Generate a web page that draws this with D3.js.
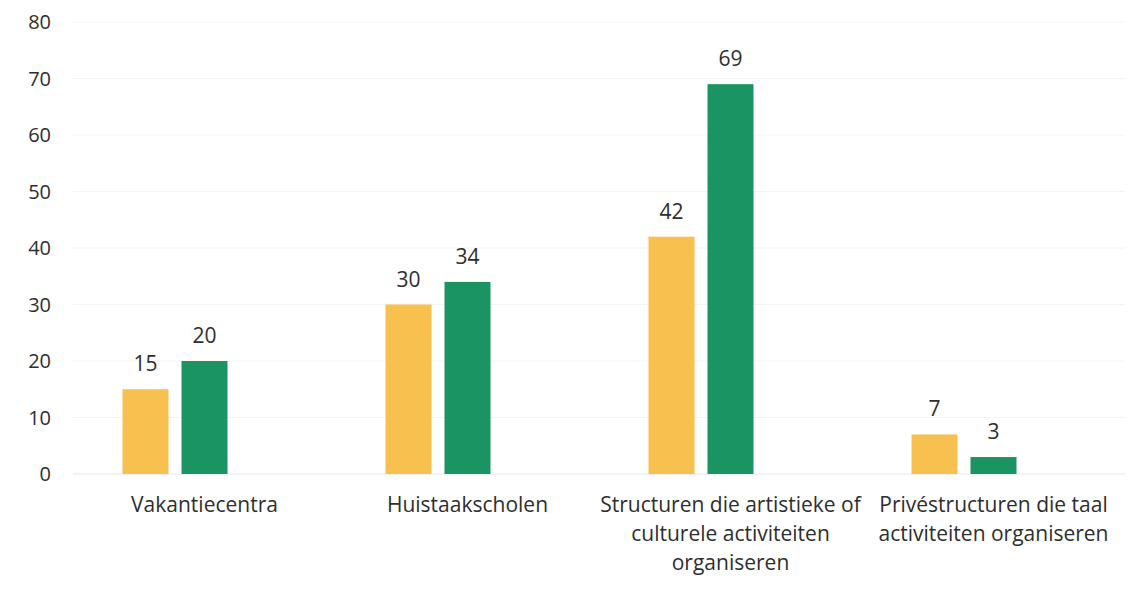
<!DOCTYPE html>
<html>
<head>
<meta charset="utf-8">
<script src="https://cdn.jsdelivr.net/npm/d3@7"></script>
<style>
  body { margin: 0; background: #fff; }
  text { font-family: "Open Sans", sans-serif; fill: #2e2e2e; }
</style>
</head>
<body>
<svg id="chart"></svg>
<script>
const categories = [
    ["Vakantiecentra"],
    ["Huistaakscholen"],
    ["Structuren die artistieke of", "culturele activiteiten", "organiseren"],
    ["Privéstructuren die taal", "activiteiten organiseren"]
];
const seriesKeys = ["s1", "s2", "s3"];
const seriesColors = ["#f7c04f", "#1a9462", "#ffffff"];
const valuesS1 = [15, 30, 42, 7];
const valuesS2 = [20, 34, 69, 3];
const yTicks = [0, 10, 20, 30, 40, 50, 60, 70, 80];

const width = 1144;
const height = 591;
const margin = {top: 22, right: 19, bottom: 117, left: 73};

const svg = d3.select("#chart")
    .attr("width", width)
    .attr("height", height);

const catNames = categories.map(d => d.join(" "));

const x0 = d3.scaleBand()
    .domain(catNames)
    .range([margin.left, width - margin.right]);

const x1 = d3.scaleBand()
    .domain(seriesKeys)
    .range([0, 164])
    .paddingInner(13 / 59);

const y = d3.scaleLinear()
    .domain([0, 80])
    .range([height - margin.bottom, margin.top]);

// faint gridlines
svg.append("g")
    .selectAll("line")
    .data(yTicks)
    .join("line")
    .attr("x1", margin.left)
    .attr("x2", width - margin.right)
    .attr("y1", d => y(d))
    .attr("y2", d => y(d))
    .attr("stroke", d => d === 0 ? "#e6e6e6" : "#f4f4f4")
    .attr("stroke-width", 1);

// y tick labels
svg.append("g")
    .selectAll("text")
    .data(yTicks)
    .join("text")
    .attr("x", 51)
    .attr("y", d => y(d))
    .attr("dy", "0.36em")
    .attr("text-anchor", "end")
    .attr("font-size", 20)
    .text(d => d);

const rows = catNames.map((c, i) => ({cat: c, s1: valuesS1[i], s2: valuesS2[i], s3: null}));

const groups = svg.append("g")
    .selectAll("g")
    .data(rows)
    .join("g")
    .attr("transform", d => `translate(${x0(d.cat) + x0.bandwidth() / 2 - 82},0)`);

const bars = groups.selectAll("g")
    .data(d => seriesKeys.filter(k => d[k] != null).map(k => ({key: k, value: d[k]})))
    .join("g");

bars.append("rect")
    .attr("x", d => x1(d.key))
    .attr("width", x1.bandwidth())
    .attr("y", d => y(d.value))
    .attr("height", d => y(0) - y(d.value))
    .attr("fill", d => seriesColors[seriesKeys.indexOf(d.key)]);

bars.append("text")
    .attr("x", d => x1(d.key) + x1.bandwidth() / 2)
    .attr("y", d => y(d.value) - 18)
    .attr("text-anchor", "middle")
    .attr("font-size", 21)
    .text(d => d.value);

// category labels
const catLabels = svg.append("g")
    .selectAll("text")
    .data(categories)
    .join("text")
    .attr("x", (d, i) => x0(catNames[i]) + x0.bandwidth() / 2)
    .attr("y", y(0) + 38)
    .attr("text-anchor", "middle")
    .attr("font-size", 21);

catLabels.selectAll("tspan")
    .data(d => d)
    .join("tspan")
    .attr("x", function() { return this.parentNode.getAttribute("x"); })
    .attr("dy", (d, i) => i === 0 ? 0 : 29)
    .text(d => d);
</script>
</body>
</html>
